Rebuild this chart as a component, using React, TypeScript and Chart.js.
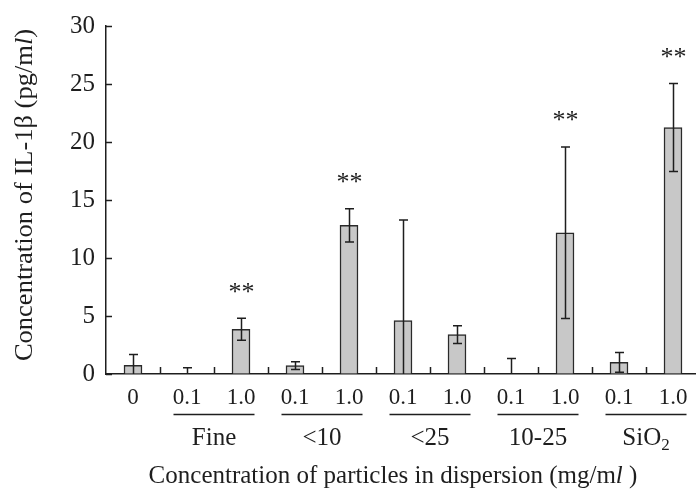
import React, { useEffect, useRef } from "react";
import { Chart, registerables } from "chart.js";

Chart.register(...registerables);

// Dose labels on the x axis (one per bar)
const doseLabels = ["0", "0.1", "1.0", "0.1", "1.0", "0.1", "1.0", "0.1", "1.0", "0.1", "1.0"];
// Mean IL-1β concentration (pg/ml) per bar
const meanValues = [0.75, 0, 3.85, 0.72, 12.82, 4.6, 3.4, 0, 12.17, 1.0, 21.25];
// Standard deviation per bar
const sdValues = [0.93, 0.53, 0.95, 0.33, 1.43, 8.67, 0.76, 1.34, 7.39, 0.85, 3.8];
// Significance flags (** marks)
const significant = [false, false, true, false, true, false, false, false, true, false, true];
// Particle groups: name and index of the first bar of each pair
const groupNames = ["Fine", "<10", "<25", "10-25", "SiO2"];
const groupStart = [1, 3, 5, 7, 9];
// Y-axis ticks
const yMin = 0;
const yMax = 30;
const yStep = 5;

const SERIF = "'Liberation Serif', 'Times New Roman', serif";
const INK = "#1e1e1e";

const decorations = {
  id: "decorations",
  afterDatasetsDraw(chart: any) {
    const { ctx, chartArea, scales } = chart;
    const x = scales.x;
    const y = scales.y;
    const catW = x.getPixelForValue(1) - x.getPixelForValue(0);
    ctx.save();
    ctx.strokeStyle = INK;
    ctx.fillStyle = INK;
    ctx.lineWidth = 1.5;

    // inward tick marks on the y axis
    for (let v = yMin; v <= yMax; v += yStep) {
      const py = Math.round(y.getPixelForValue(v)) + 0.5;
      ctx.beginPath();
      ctx.moveTo(chartArea.left, py);
      ctx.lineTo(chartArea.left + 6, py);
      ctx.stroke();
    }
    // inward tick marks between categories
    for (let i = 0; i < doseLabels.length - 1; i++) {
      const px = Math.round(x.getPixelForValue(i) + catW / 2) + 0.5;
      ctx.beginPath();
      ctx.moveTo(px, chartArea.bottom);
      ctx.lineTo(px, chartArea.bottom - 7);
      ctx.stroke();
    }

    // error bars
    const cap = 4.5;
    meanValues.forEach((m, i) => {
      const px = Math.round(x.getPixelForValue(i)) + 0.5;
      const hi = m + sdValues[i];
      const lo = Math.max(0, m - sdValues[i]);
      const pHi = y.getPixelForValue(hi);
      const pLo = y.getPixelForValue(lo);
      ctx.beginPath();
      ctx.moveTo(px, pHi);
      ctx.lineTo(px, pLo);
      ctx.moveTo(px - cap, pHi);
      ctx.lineTo(px + cap, pHi);
      if (lo > 0) {
        ctx.moveTo(px - cap, pLo);
        ctx.lineTo(px + cap, pLo);
      }
      ctx.stroke();

      // significance marks
      if (significant[i]) {
        const py = y.getPixelForValue(hi + 2.3);
        ctx.font = `26px ${SERIF}`;
        ctx.textAlign = "center";
        ctx.textBaseline = "alphabetic";
        ctx.fillText("*", px - 6.5, py + 8);
        ctx.fillText("*", px + 6.5, py + 8);
      }
    });

    // group underlines and names
    groupNames.forEach((name, g) => {
      const a = x.getPixelForValue(groupStart[g]);
      const b = x.getPixelForValue(groupStart[g] + 1);
      const x0 = a - catW * 0.25;
      const x1 = b + catW * 0.25;
      ctx.beginPath();
      ctx.moveTo(x0, 414.5);
      ctx.lineTo(x1, 414.5);
      ctx.stroke();
      const cx = (a + b) / 2;
      ctx.textBaseline = "alphabetic";
      if (name === "SiO2") {
        ctx.font = `25px ${SERIF}`;
        const w1 = ctx.measureText("SiO").width;
        ctx.font = `17px ${SERIF}`;
        const w2 = ctx.measureText("2").width;
        const start = cx - (w1 + w2) / 2;
        ctx.textAlign = "left";
        ctx.font = `25px ${SERIF}`;
        ctx.fillText("SiO", start, 445);
        ctx.font = `17px ${SERIF}`;
        ctx.fillText("2", start + w1, 450);
      } else {
        ctx.font = `25px ${SERIF}`;
        ctx.textAlign = "center";
        ctx.fillText(name, cx, 445);
      }
    });

    // titles, with an italic "l" in the unit
    const drawParts = (parts: [string, string][], cx: number, cy: number) => {
      let total = 0;
      parts.forEach(([t, f]) => {
        ctx.font = f;
        total += ctx.measureText(t).width;
      });
      let cur = cx - total / 2;
      ctx.textAlign = "left";
      parts.forEach(([t, f]) => {
        ctx.font = f;
        ctx.fillText(t, cur, cy);
        cur += ctx.measureText(t).width;
      });
    };
    const reg = `25px ${SERIF}`;
    const ital = `italic 25px ${SERIF}`;
    drawParts(
      [
        ["Concentration of particles in dispersion (mg/m", reg],
        ["l", ital],
        [" )", reg],
      ],
      393,
      483
    );

    // y-axis title, rotated
    ctx.save();
    ctx.translate(32, 195);
    ctx.rotate(-Math.PI / 2);
    ctx.scale(1.06, 1);
    drawParts(
      [
        ["Concentration of IL-1β (pg/m", reg],
        ["l", ital],
        [")", reg],
      ],
      0,
      0
    );
    ctx.restore();

    ctx.restore();
  },
};

const whiteBg = {
  id: "whiteBg",
  beforeDraw(chart: any) {
    const { ctx, width, height } = chart;
    ctx.save();
    ctx.fillStyle = "#ffffff";
    ctx.fillRect(0, 0, width, height);
    ctx.restore();
  },
};

export default function App() {
  const ref = useRef<HTMLCanvasElement | null>(null);

  useEffect(() => {
    if (!ref.current) return;
    const chart = new Chart(ref.current, {
      type: "bar",
      data: {
        labels: doseLabels,
        datasets: [
          {
            data: meanValues,
            backgroundColor: "#c8c8c8",
            borderColor: "#2a2a2a",
            borderWidth: 1.5,
            barThickness: 18,
          },
        ],
      },
      options: {
        responsive: false,
        animation: false,
        devicePixelRatio: 1,
        layout: { padding: { top: 16, left: 0, right: 0, bottom: 0 } },
        plugins: {
          legend: { display: false },
          tooltip: { enabled: false },
          title: { display: false },
        },
        scales: {
          x: {
            type: "category",
            offset: true,
            grid: { display: false, drawTicks: false },
            border: { display: true, color: INK, width: 1.5 },
            ticks: {
              color: INK,
              font: { family: SERIF, size: 23 },
              padding: 10,
              maxRotation: 0,
              autoSkip: false,
            },
            afterFit: (s: any) => {
              s.height = 118;
            },
          },
          y: {
            min: yMin,
            max: yMax,
            grid: { drawOnChartArea: false, drawTicks: false },
            border: { display: true, color: INK, width: 1.5 },
            ticks: {
              stepSize: yStep,
              color: INK,
              font: { family: SERIF, size: 25 },
              padding: 11,
            },
            afterFit: (s: any) => {
              s.width = 106;
            },
          },
        },
      },
      plugins: [whiteBg, decorations],
    });
    return () => chart.destroy();
  }, []);

  return (
    <div
      style={{
        position: "fixed",
        left: 0,
        top: 0,
        width: 696,
        height: 492,
        overflow: "hidden",
        background: "#fff",
      }}
    >
      <canvas ref={ref} width={700} height={492} style={{ display: "block" }} />
    </div>
  );
}
